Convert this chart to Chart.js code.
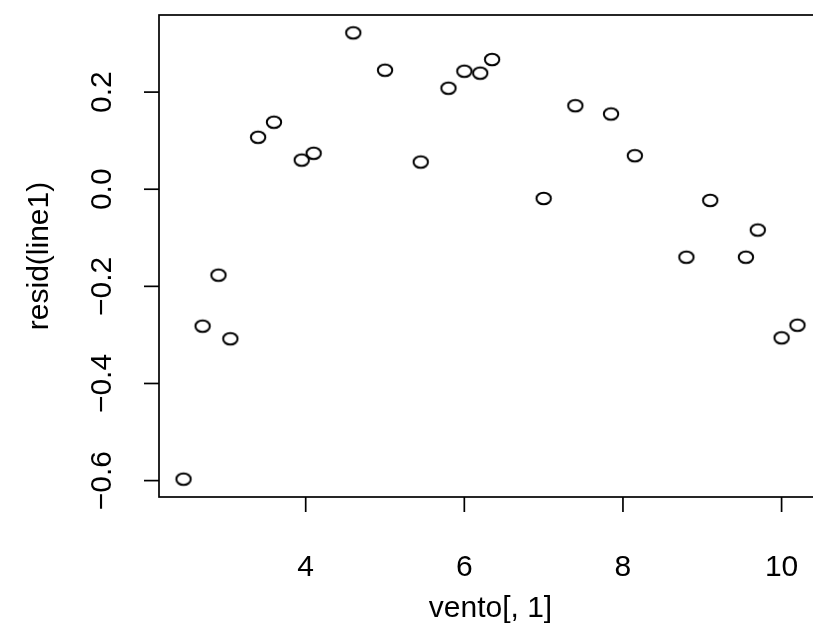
<!DOCTYPE html>
<html>
<head>
<meta charset="utf-8">
<script src="https://cdn.jsdelivr.net/npm/chart.js@4/dist/chart.umd.min.js"></script>
<style>
	html, body { margin: 0; padding: 0; background: #fff; overflow: hidden; }
	#wrap { width: 813px; height: 633px; overflow: hidden; }
</style>
</head>
<body>
<div id="wrap"><canvas id="c" width="830" height="633"></canvas></div>
<script>
// vento[, 1] against resid(line1)
const ventoX = [2.46, 2.70, 2.90, 3.05, 3.40, 3.60, 3.95, 4.10, 4.60, 5.00, 5.45, 5.80, 6.00,
	6.20, 6.35, 7.00, 7.40, 7.85, 8.15, 8.80, 9.10, 9.55, 9.70, 10.00, 10.20]
const residY = [-0.597, -0.282, -0.177, -0.308, 0.107, 0.138, 0.060, 0.074, 0.322, 0.245, 0.056, 0.208, 0.243,
	0.239, 0.267, -0.019, 0.172, 0.155, 0.069, -0.140, -0.023, -0.140, -0.084, -0.306, -0.280]
const xTicks = [4, 6, 8, 10]
const yTicks = [-0.6, -0.4, -0.2, 0.0, 0.2]
const xTitle = 'vento[, 1]'
const yTitle = 'resid(line1)'

const FONT = '30px "Liberation Sans", Arial, sans-serif'

// R pads the data range by 4% on each side
let pad = (arr) => {
	let lo = Math.min(...arr), hi = Math.max(...arr)
	let d = (hi - lo) * 0.04
	return [lo - d, hi + d]
}
const [xMin, xMax] = pad(ventoX)
const [yMin, yMax] = pad(residY)

// open circle, a bit wider than tall like in the png
let ring = document.createElement('canvas')
ring.width = 20
ring.height = 17
let rc = ring.getContext('2d')
rc.lineWidth = 2
rc.strokeStyle = '#000'
rc.beginPath()
rc.ellipse(10, 8.5, 7.2, 5.8, 0, 0, Math.PI * 2)
rc.stroke()

let fmt = (v) => {
	let s = Math.abs(v).toFixed(1)
	return v < 0 ? '\u2212' + s : s
}

const baseAxes = {
	id: 'baseAxes',
	afterDraw(chart) {
		let ctx = chart.ctx
		let a = chart.chartArea
		let xs = chart.scales.x, ys = chart.scales.y
		ctx.save()
		ctx.strokeStyle = '#000'
		ctx.fillStyle = '#000'
		ctx.lineWidth = 1.7
		ctx.strokeRect(a.left, a.top, a.right - a.left, a.bottom - a.top)
		ctx.font = FONT
		// x axis
		ctx.textAlign = 'center'
		ctx.textBaseline = 'middle'
		xTicks.forEach(t => {
			let px = xs.getPixelForValue(t)
			ctx.beginPath()
			ctx.moveTo(px, a.bottom)
			ctx.lineTo(px, a.bottom + 15)
			ctx.stroke()
			ctx.fillText(String(t), px, 568)
		})
		ctx.fillText(xTitle, (a.left + a.right) / 2, 609)
		// y axis, labels turned like R does
		yTicks.forEach(t => {
			let py = ys.getPixelForValue(t)
			ctx.beginPath()
			ctx.moveTo(a.left, py)
			ctx.lineTo(a.left - 15, py)
			ctx.stroke()
			ctx.save()
			ctx.translate(103, py)
			ctx.rotate(-Math.PI / 2)
			ctx.fillText(fmt(t), 0, 0)
			ctx.restore()
		})
		ctx.save()
		ctx.translate(40, (a.top + a.bottom) / 2)
		ctx.rotate(-Math.PI / 2)
		ctx.fillText(yTitle, 0, 0)
		ctx.restore()
		ctx.restore()
	}
}

new Chart(document.getElementById('c'), {
	type: 'scatter',
	data: {
		datasets: [{
			data: ventoX.map((x, i) => ({ x: x, y: residY[i] })),
			pointStyle: ring,
			borderColor: '#000',
			backgroundColor: 'rgba(0,0,0,0)'
		}]
	},
	options: {
		responsive: false,
		animation: false,
		devicePixelRatio: 1,
		layout: { padding: { left: 159, top: 15, right: 8, bottom: 136 } },
		plugins: { legend: { display: false }, tooltip: { enabled: false } },
		scales: {
			x: { type: 'linear', min: xMin, max: xMax, display: false },
			y: { type: 'linear', min: yMin, max: yMax, display: false }
		}
	},
	plugins: [baseAxes]
})
</script>
</body>
</html>
